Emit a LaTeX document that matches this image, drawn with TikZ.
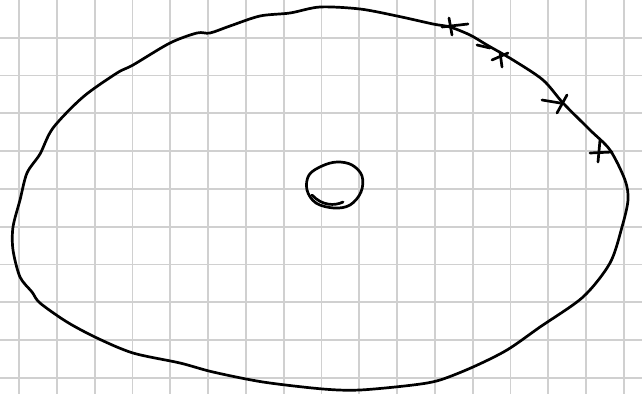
\documentclass[tikz,border=0pt]{standalone}
\begin{document}
\begin{tikzpicture}[x=1pt,y=-1pt,
  gridline/.style={draw={rgb,255:red,208;green,208;blue,208},line width=1.8pt},
  pen/.style={draw=black,line width=2.7pt,line cap=round,line join=round},
  tick/.style={draw=black,line width=2.7pt,line cap=round}]
\useasboundingbox (0,0) rectangle (642,394);
\fill[white] (0,0) rectangle (642,394);
% grid
\foreach \k in {0,...,16} \draw[gridline] ({19+37.8*\k},0) -- ({19+37.8*\k},394);
\foreach \k in {1,...,10} \draw[gridline] (0,{-0.1+37.8*\k}) -- (642,{-0.1+37.8*\k});
% outer curve
\draw[pen] plot[smooth cycle, tension=0.5] coordinates {
 (320,7) (360,9) (397,16) (433,24) (450,27) (470,35) (487,45) (513,60)
 (543,80) (563,103) (590,130) (610,150) (625,180) (628,200) (622,227)
 (610,263) (583,297) (540,327) (507,350) (473,367) (440,380) (413,385)
 (360,390) (323,389) (263,382) (213,372) (180,363) (133,353) (97,338)
 (67,322) (40,303) (32,292) (20,277) (13,250) (13,227) (20,200) (27,173)
 (40,154) (53,128) (83,97) (117,73) (133,65) (170,43) (197,33) (210,33)
 (230,26) (260,16) (290,13)};
% doubled stroke near mark 2
\draw[pen] (477,45) -- (490,48);
% inner small loop
\draw[pen] plot[smooth cycle, tension=0.6] coordinates {
 (322,166) (337,162) (352,165) (362,176) (361,192) (350,205) (334,208)
 (316,203) (307,190) (309,175)};
\draw[pen] (312,195) .. controls (322,206) and (335,206) .. (343,202);
% cross marks
\draw[tick] (442,27) -- (468,24);
\draw[tick] (449,18) -- (452,35);
\draw[tick] (492,60) -- (508,53);
\draw[tick] (500,52) -- (502,67);
\draw[tick] (542,100) -- (560,103);
\draw[tick] (567,95) -- (557,113);
\draw[tick] (590,153) -- (612,152);
\draw[tick] (600,140) -- (598,162);
\end{tikzpicture}
\end{document}
